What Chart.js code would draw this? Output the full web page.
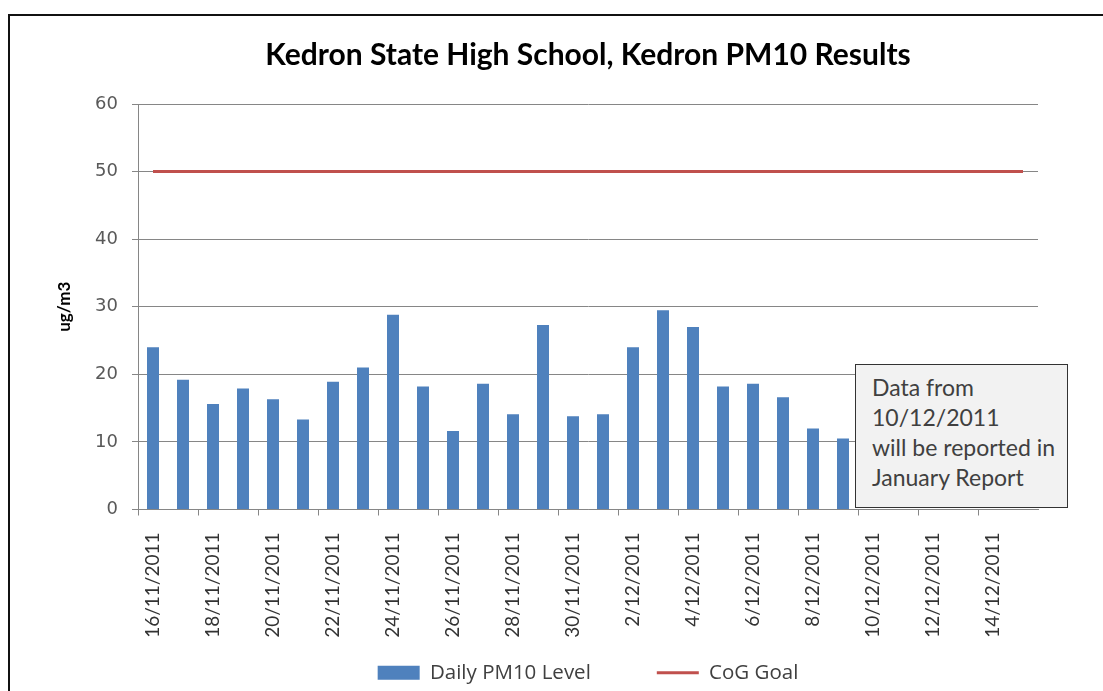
<!DOCTYPE html>
<html>
<head>
<meta charset="utf-8">
<script src="https://cdn.jsdelivr.net/npm/chart.js@4.4.1/dist/chart.umd.min.js"></script>
<style>
  html, body { margin: 0; padding: 0; background: #ffffff; overflow: hidden; }
  #wrap { position: relative; width: 1103px; height: 691px; }
  #frame { position: absolute; left: 8px; top: 14px; width: 1200px; height: 800px;
           border-left: 2px solid #111; border-top: 2px solid #111; }
  canvas { position: absolute; left: 0; top: 0; }
  #note { position: absolute; left: 855px; top: 364px; width: 211px; height: 142px;
          background: #f2f2f2; border: 1.5px solid #333; box-sizing: content-box;
          font-family: Lato, "Open Sans", sans-serif; font-size: 23px; color: #404040;
          line-height: 30px; padding: 0; }
  #note div.in { padding: 7px 0 0 16px; white-space: nowrap; }
</style>
</head>
<body>
<div id="wrap">
  <div id="frame"></div>
  <canvas id="c" width="1103" height="691"></canvas>
  <div id="note"><div class="in">Data from<br>10/12/2011<br>will be reported in<br>January Report</div></div>
</div>
<script>
const categories = ['16/11/2011','17/11/2011','18/11/2011','19/11/2011','20/11/2011','21/11/2011',
  '22/11/2011','23/11/2011','24/11/2011','25/11/2011','26/11/2011','27/11/2011','28/11/2011',
  '29/11/2011','30/11/2011','1/12/2011','2/12/2011','3/12/2011','4/12/2011','5/12/2011',
  '6/12/2011','7/12/2011','8/12/2011','9/12/2011','10/12/2011','11/12/2011','12/12/2011',
  '13/12/2011','14/12/2011','15/12/2011'];
const dailyPM10 = [24.0, 19.2, 15.6, 17.9, 16.3, 13.3, 18.9, 21.0, 28.8, 18.2, 11.6, 18.6,
  14.1, 27.3, 13.8, 14.1, 24.0, 29.5, 27.0, 18.2, 18.6, 16.6, 12.0, 10.5];
const cogGoal = [50,50,50,50,50,50,50,50,50,50,50,50,50,50,50,50,50,50,50,50,50,50,50,50,50,50,50,50,50,50];
const yMin = 0, yMax = 60, yStep = 10;
const seriesNames = ['Daily PM10 Level', 'CoG Goal'];
const titleText = 'Kedron State High School, Kedron PM10 Results';
const yTitle = 'ug/m3';

const GRID = '#868686';

// let the rotated x labels run down into the empty top part of the legend box
const unclipX = {
  id: 'unclipX',
  afterLayout(chart) {
    const sx = chart.scales.x;
    if (sx) sx.bottom = chart.height;
  }
};

function build() {
  new Chart(document.getElementById('c'), {
    data: {
      labels: categories,
      datasets: [
        { type: 'bar', label: seriesNames[0], data: dailyPM10,
          backgroundColor: '#4f81bd', borderWidth: 0,
          categoryPercentage: 1.0, barPercentage: 0.4, pointStyle: 'rect' },
        { type: 'line', label: seriesNames[1], data: cogGoal,
          borderColor: '#c0504d', backgroundColor: '#c0504d', borderWidth: 3,
          pointRadius: 0, pointStyle: 'line', tension: 0, fill: false }
      ]
    },
    plugins: [unclipX],
    options: {
      responsive: false,
      animation: false,
      devicePixelRatio: 1,
      layout: { padding: { top: 0, left: 50, right: 65, bottom: -2 } },
      plugins: {
        tooltip: { enabled: false },
        title: { display: true, text: titleText, fullSize: false, color: '#000',
                 font: { family: 'Lato', weight: 'bold', size: 30 },
                 padding: { top: 37, bottom: 31 } },
        legend: { position: 'bottom', fullSize: false,
                  labels: { usePointStyle: true, pointStyleWidth: 42, boxHeight: 14,
                            padding: 66, color: '#404040',
                            font: { family: 'Open Sans', size: 20.5 } } }
      },
      scales: {
        x: {
          type: 'category', offset: true,
          grid: { offset: true, drawOnChartArea: false, drawTicks: true, tickLength: 6,
                  tickColor: (ctx) => (ctx.index % 2 === 0 ? GRID : 'rgba(0,0,0,0)') },
          border: { color: GRID, width: 1 },
          ticks: { autoSkip: false, maxRotation: 90, minRotation: 90, padding: 17,
                   color: '#333', font: { family: 'Lato', size: 19 },
                   callback: function (v, i) { return i % 2 === 0 ? categories[i] : ''; } },
          afterFit: (s) => { s.height = 87; }
        },
        y: {
          min: yMin, max: yMax,
          ticks: { stepSize: yStep, padding: 14, color: '#595959',
                   font: { family: 'DejaVu Sans', size: 18 } },
          grid: { color: GRID, lineWidth: 1, tickLength: 6, tickColor: GRID },
          border: { color: GRID, width: 1 },
          title: { display: true, text: yTitle, color: '#000',
                   font: { family: 'Lato', weight: 'bold', size: 17 } },
          afterFit: (s) => { s.width = 88; }
        }
      }
    }
  });
}
const fl = ['bold 30px Lato', '19px Lato', '23px Lato', '20.5px "Open Sans"', '18px "DejaVu Sans"'];
Promise.all(fl.map(f => document.fonts.load(f))).then(build, build);
</script>
</body>
</html>
